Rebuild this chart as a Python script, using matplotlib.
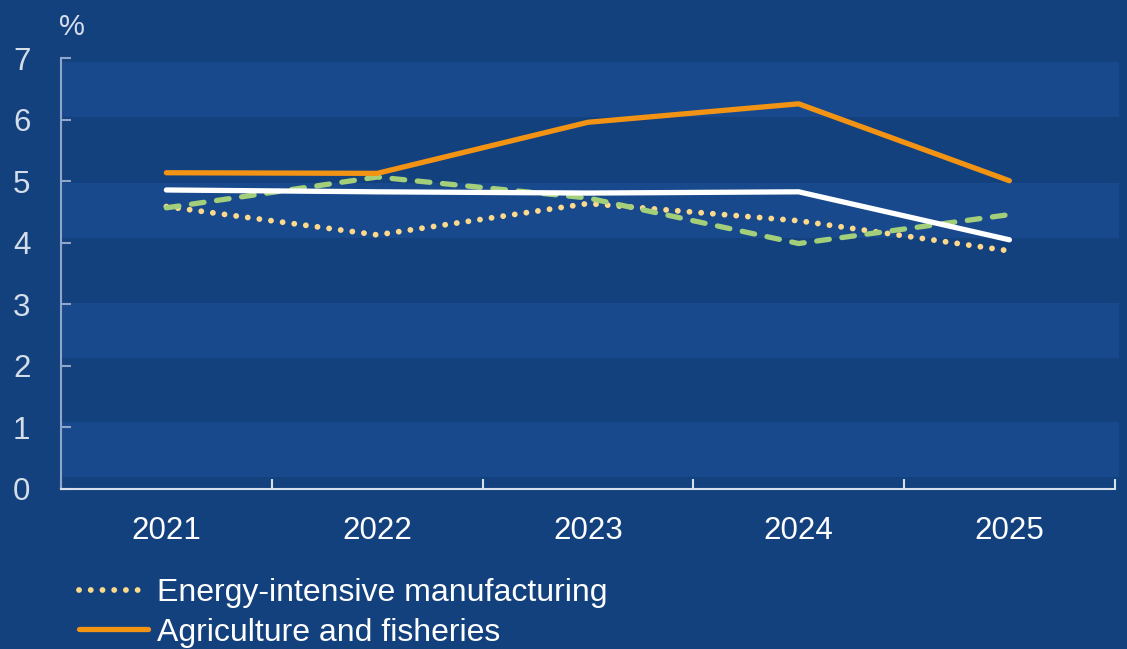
import numpy as np
import matplotlib.pyplot as plt

years = ["2021", "2022", "2023", "2024", "2025"]
energy_intensive = [4.59, 4.13, 4.64, 4.36, 3.87]
agriculture = [5.14, 5.13, 5.96, 6.26, 5.01]
total = [4.86, 4.83, 4.81, 4.83, 4.05]
other = [4.57, 5.07, 4.73, 3.99, 4.46]

BG = "#13417e"
BAND = "#17498c"
bands = [(0.20, 1.09), (2.13, 3.03), (4.08, 4.98), (6.05, 6.94)]

plt.rcParams["font.family"] = ["Liberation Sans", "DejaVu Sans"]

fig = plt.figure(figsize=(11.27, 6.49), dpi=100, facecolor=BG)
ax = fig.add_axes([61 / 1127, 1 - 489 / 649, 1058 / 1127, (489 - 58.3) / 649])
ax.set_facecolor(BG)

for lo, hi in bands:
	ax.axhspan(lo, hi, color=BAND, lw=0, zorder=0)

x = np.arange(len(years))
ax.plot(x, energy_intensive, color="#fdd98c", lw=4.2, linestyle=(0, (0.01, 2.0)),
	dash_capstyle="round", label="Energy-intensive manufacturing", zorder=2)
ax.plot(x, other, color="#a3cf7a", lw=3.8, linestyle=(0, (2.4, 2.4)),
	dash_capstyle="round", zorder=3)
ax.plot(x, total, color="white", lw=3.8, solid_capstyle="round", zorder=4)
ax.plot(x, agriculture, color="#f39314", lw=3.8, solid_capstyle="round",
	label="Agriculture and fisheries", zorder=5)

ax.set_xlim(-0.5, 4.52)
ax.set_ylim(0, 7)

for side in ["top", "right"]:
	ax.spines[side].set_visible(False)
ax.spines["left"].set_color("#8ea6c8")
ax.spines["left"].set_linewidth(1.5)
ax.spines["bottom"].set_color("#d8e0ec")
ax.spines["bottom"].set_linewidth(1.5)
ax.spines["bottom"].set_bounds(-0.5, 4.5)

ax.set_yticks(range(8))
ax.tick_params(axis="y", direction="in", length=7, width=1.5, color="#8ea6c8",
	labelcolor="#d5dde8", labelsize=22.5, pad=22)

ax.set_xticks(x)
ax.set_xticklabels(years)
ax.set_xticks(np.arange(-0.5, 5, 1), minor=True)
ax.tick_params(axis="x", which="major", length=0, labelcolor="white", labelsize=22.5, pad=19.5)
ax.tick_params(axis="x", which="minor", direction="in", length=7, width=1.5, color="#d8e0ec")

fig.text(72 / 1127, 1 - 27 / 649, "%", color="#d5dde8", fontsize=21, ha="center", va="center")

leg = fig.legend(loc="upper left", bbox_to_anchor=(79 / 1127, 1 - 578 / 649),
	frameon=False, fontsize=23, handlelength=2.15, handletextpad=0.3,
	labelspacing=0.3, borderpad=0, borderaxespad=0)
for t in leg.get_texts():
	t.set_color("white")

fig.savefig("out.png", dpi=100, facecolor=BG)
